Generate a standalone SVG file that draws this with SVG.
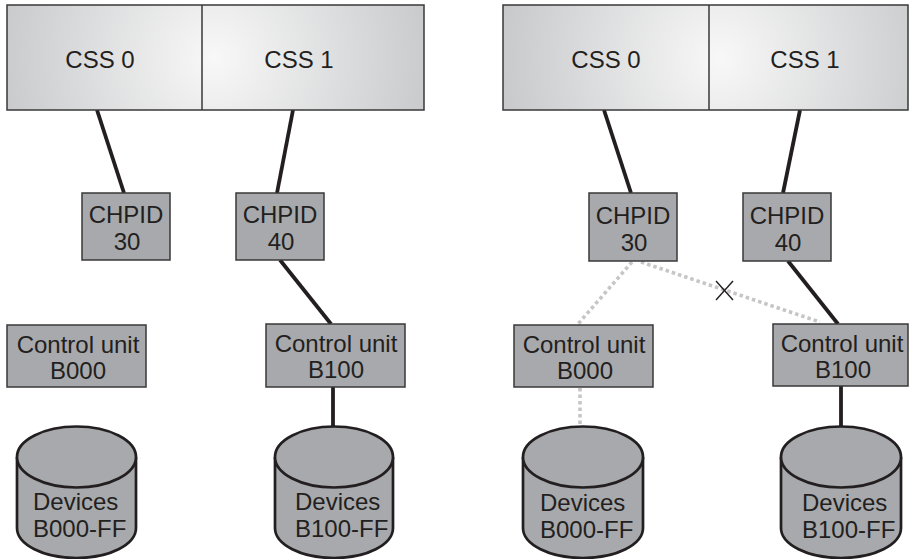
<svg xmlns="http://www.w3.org/2000/svg" width="909" height="559" viewBox="0 0 909 559">
<defs>
<radialGradient id="gL" gradientUnits="userSpaceOnUse" cx="215" cy="58" r="230">
<stop offset="0" stop-color="#f8f8f8"/><stop offset="1" stop-color="#c6c7c9"/>
</radialGradient>
<radialGradient id="gR" gradientUnits="userSpaceOnUse" cx="720" cy="58" r="230">
<stop offset="0" stop-color="#f8f8f8"/><stop offset="1" stop-color="#c6c7c9"/>
</radialGradient>
</defs>
<style>
text{font-family:"Liberation Sans",Arial,sans-serif;font-size:24px;fill:#231f20;text-anchor:middle}
.box{fill:#a7a9ac;stroke:#3a3839;stroke-width:1.5}
.css{stroke:#3a3839;stroke-width:1.5}
.cyl{fill:#a7a9ac;stroke:#231f20;stroke-width:2.7}
.dev{text-anchor:start}
.solid{stroke:#231f20;stroke-width:3.8;fill:none}
.dot{stroke:#c6c6c6;stroke-width:3.6;stroke-dasharray:3.5 3;fill:none}
.x{stroke:#231f20;stroke-width:1.4}
</style>
<rect width="909" height="559" fill="#fff"/>
<g id="connectors">
<line class="solid" x1="97" y1="110" x2="124" y2="193"/>
<line class="solid" x1="293" y1="110" x2="277" y2="193"/>
<line class="solid" x1="280" y1="260" x2="331" y2="324"/>
<line class="solid" x1="333" y1="387" x2="333" y2="427"/>
<line class="solid" x1="604" y1="110" x2="631" y2="193"/>
<line class="solid" x1="800" y1="110" x2="783" y2="193"/>
<line class="solid" x1="788" y1="261" x2="838" y2="324"/>
<line class="solid" x1="841" y1="386" x2="841" y2="427"/>
<line class="dot" x1="632" y1="262" x2="578" y2="324"/>
<line class="dot" x1="641" y1="262" x2="820" y2="322"/>
<line class="dot" x1="580" y1="388" x2="580" y2="425"/>
<line class="x" x1="716" y1="281" x2="733" y2="300"/>
<line class="x" x1="733" y1="281" x2="716" y2="300"/>
</g>
<g id="css-left">
<rect x="7" y="5" width="417" height="105" fill="url(#gL)" class="css"/>
<line class="css" x1="202" y1="5" x2="202" y2="110"/>
<text x="100" y="68">CSS 0</text>
<text x="299" y="68">CSS 1</text>
</g>
<g id="chpid30-left">
<rect class="box" x="82" y="193" width="88" height="67"/>
<text x="126" y="223">CHPID</text><text x="127" y="250">30</text>
</g>
<g id="chpid40-left">
<rect class="box" x="236" y="193" width="88" height="67"/>
<text x="280" y="223">CHPID</text><text x="281" y="250">40</text>
</g>
<g id="cu-b000-left">
<rect class="box" x="7" y="325" width="139" height="62"/>
<text x="78" y="353">Control unit</text><text x="78" y="379">B000</text>
</g>
<g id="cu-b100-left">
<rect class="box" x="266" y="324" width="139" height="63"/>
<text x="336" y="352">Control unit</text><text x="336" y="378">B100</text>
</g>
<g id="dev-b000-left">
<path class="cyl" d="M17,457 A59.5,30.5 0 0 1 136,457 L136,528 A59.5,30 0 0 1 17,528 Z"/>
<path class="cyl" fill="none" d="M17,457 A59.5,30.5 0 0 0 136,457"/>
<text class="dev" x="33" y="510">Devices</text><text class="dev" x="33" y="537">B000-FF</text>
</g>
<g id="dev-b100-left">
<path class="cyl" d="M275,457 A59,30.5 0 0 1 393,457 L393,528 A59,30 0 0 1 275,528 Z"/>
<path class="cyl" fill="none" d="M275,457 A59,30.5 0 0 0 393,457"/>
<text class="dev" x="295" y="510">Devices</text><text class="dev" x="295" y="537">B100-FF</text>
</g>
<g id="css-right">
<rect x="503" y="5" width="405" height="105" fill="url(#gR)" class="css"/>
<line class="css" x1="709" y1="5" x2="709" y2="110"/>
<text x="606" y="68">CSS 0</text>
<text x="805" y="68">CSS 1</text>
</g>
<g id="chpid30-right">
<rect class="box" x="589" y="193" width="88" height="68"/>
<text x="633" y="224">CHPID</text><text x="634" y="251">30</text>
</g>
<g id="chpid40-right">
<rect class="box" x="743" y="193" width="88" height="68"/>
<text x="787" y="224">CHPID</text><text x="788" y="251">40</text>
</g>
<g id="cu-b000-right">
<rect class="box" x="514" y="325" width="139" height="62"/>
<text x="584" y="353">Control unit</text><text x="585" y="379">B000</text>
</g>
<g id="cu-b100-right">
<rect class="box" x="773" y="324" width="135" height="62"/>
<text x="842" y="352">Control unit</text><text x="843" y="378">B100</text>
</g>
<g id="dev-b000-right">
<path class="cyl" d="M523,457 A60,30.5 0 0 1 643,457 L643,528 A60,30 0 0 1 523,528 Z"/>
<path class="cyl" fill="none" d="M523,457 A60,30.5 0 0 0 643,457"/>
<text class="dev" x="540" y="511">Devices</text><text class="dev" x="540" y="538">B000-FF</text>
</g>
<g id="dev-b100-right">
<path class="cyl" d="M781,457 A60,30.5 0 0 1 901,457 L901,528 A60,30 0 0 1 781,528 Z"/>
<path class="cyl" fill="none" d="M781,457 A60,30.5 0 0 0 901,457"/>
<text class="dev" x="802" y="511">Devices</text><text class="dev" x="802" y="538">B100-FF</text>
</g>
</svg>
